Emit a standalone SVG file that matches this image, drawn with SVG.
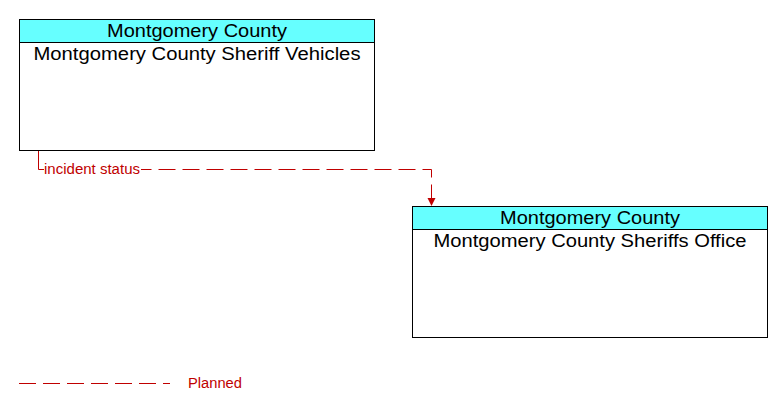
<svg xmlns="http://www.w3.org/2000/svg" width="783" height="412" viewBox="0 0 783 412">
<style>
.box{fill:#fff;stroke:#000;stroke-width:1}
.hdr{fill:#66ffff;stroke:#000;stroke-width:1}
.t{font-family:"Liberation Sans",Arial,sans-serif;font-size:18px;fill:#000;text-anchor:middle}
.flow{fill:none;stroke:#c00000;stroke-width:1;stroke-dasharray:17,7}
.lbl{font-family:"Liberation Sans",Arial,sans-serif;font-size:14px;fill:#c00000}
</style>
<defs>
<marker id="arr" markerWidth="10" markerHeight="10" refX="8" refY="4" orient="auto" markerUnits="userSpaceOnUse">
<path d="M0,0 L8,4 L0,8 z" fill="#c00000"/>
</marker>
</defs>
<rect width="783" height="412" fill="#fff"/>
<g id="connectors">
<path d="M38.5,150 V169.5" fill="none" stroke="#c00000"/>
<path class="flow" d="M38.5,169.5 H431.5 V206" marker-end="url(#arr)"/>
<rect x="44" y="160" width="97" height="16" fill="#fff"/>
<text class="lbl" x="44" y="174" textLength="96" lengthAdjust="spacingAndGlyphs">incident status</text>
<path d="M40,169.5 H43" stroke="#c00000"/>
</g>
<g id="node1">
<rect class="box" x="19.5" y="19.5" width="355" height="131"/>
<rect class="hdr" x="19.5" y="19.5" width="355" height="23"/>
<text class="t" x="197" y="37" textLength="180" lengthAdjust="spacingAndGlyphs">Montgomery County</text>
<text class="t" x="197" y="60" textLength="327" lengthAdjust="spacingAndGlyphs">Montgomery County Sheriff Vehicles</text>
</g>
<g id="node2">
<rect class="box" x="412.5" y="206.5" width="355" height="131"/>
<rect class="hdr" x="412.5" y="206.5" width="355" height="23"/>
<text class="t" x="590" y="224" textLength="180" lengthAdjust="spacingAndGlyphs">Montgomery County</text>
<text class="t" x="590" y="247" textLength="313" lengthAdjust="spacingAndGlyphs">Montgomery County Sheriffs Office</text>
</g>
<g id="legend">
<path class="flow" d="M19,383.5 H170"/>
<text class="lbl" x="188" y="388" textLength="54" lengthAdjust="spacingAndGlyphs">Planned</text>
</g>
</svg>
